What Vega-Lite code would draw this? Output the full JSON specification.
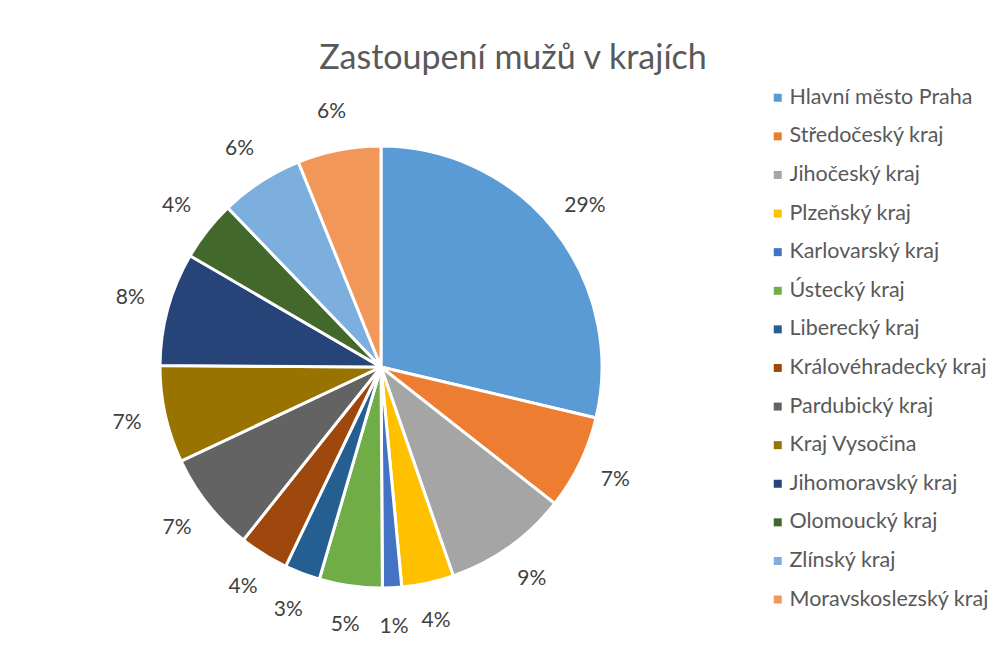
{
  "$schema": "https://vega.github.io/schema/vega-lite/v6.json",
  "autosize": "none",
  "width": 442,
  "height": 442,
  "padding": {"left": 160, "top": 146, "right": 403, "bottom": 60},
  "background": "white",
  "title": {
    "text": "Zastoupení mužů v krajích",
    "font": "Lato",
    "fontSize": 34,
    "fontWeight": "normal",
    "color": "#595959",
    "anchor": "middle",
    "frame": "group",
    "dx": 132,
    "offset": 11
  },
  "config": {"view": {"stroke": null}},
  "data": {
    "values": [
      {"i": 1, "kraj": "Hlavní město Praha", "podil": 0.287},
      {"i": 2, "kraj": "Středočeský kraj", "podil": 0.069},
      {"i": 3, "kraj": "Jihočeský kraj", "podil": 0.091},
      {"i": 4, "kraj": "Plzeňský kraj", "podil": 0.038},
      {"i": 5, "kraj": "Karlovarský kraj", "podil": 0.014},
      {"i": 6, "kraj": "Ústecký kraj", "podil": 0.046},
      {"i": 7, "kraj": "Liberecký kraj", "podil": 0.026},
      {"i": 8, "kraj": "Královéhradecký kraj", "podil": 0.036},
      {"i": 9, "kraj": "Pardubický kraj", "podil": 0.073},
      {"i": 10, "kraj": "Kraj Vysočina", "podil": 0.071},
      {"i": 11, "kraj": "Jihomoravský kraj", "podil": 0.083},
      {"i": 12, "kraj": "Olomoucký kraj", "podil": 0.044},
      {"i": 13, "kraj": "Zlínský kraj", "podil": 0.061},
      {"i": 14, "kraj": "Moravskoslezský kraj", "podil": 0.061}
    ]
  },
  "encoding": {
    "theta": {"field": "podil", "type": "quantitative", "stack": true},
    "order": {"field": "i", "type": "quantitative"},
    "color": {
      "field": "kraj",
      "type": "nominal",
      "sort": null,
      "scale": {
        "domain": ["Hlavní město Praha", "Středočeský kraj", "Jihočeský kraj", "Plzeňský kraj", "Karlovarský kraj", "Ústecký kraj", "Liberecký kraj", "Královéhradecký kraj", "Pardubický kraj", "Kraj Vysočina", "Jihomoravský kraj", "Olomoucký kraj", "Zlínský kraj", "Moravskoslezský kraj"],
        "range": ["#5B9BD5", "#ED7D31", "#A5A5A5", "#FFC000", "#4472C4", "#70AD47", "#255E91", "#9E480E", "#636363", "#997300", "#264478", "#43682B", "#7CAFDD", "#F1975A"]
      },
      "legend": {
        "title": null,
        "orient": "none",
        "legendX": 607,
        "legendY": -59,
        "symbolType": "square",
        "symbolSize": 64,
        "symbolStrokeWidth": 0,
        "labelFont": "Lato",
        "labelFontSize": 21.5,
        "labelColor": "#595959",
        "labelOffset": 1,
        "rowPadding": 15.6,
        "labelLimit": 300
      }
    }
  },
  "layer": [
    {
      "mark": {"type": "arc", "stroke": "white", "strokeWidth": 3}
    },
    {
      "mark": {"type": "text", "radius": 260, "font": "Lato", "fontSize": 21},
      "encoding": {
        "text": {"field": "podil", "type": "quantitative", "format": ".0%"},
        "color": {"value": "#404040"}
      }
    }
  ]
}
